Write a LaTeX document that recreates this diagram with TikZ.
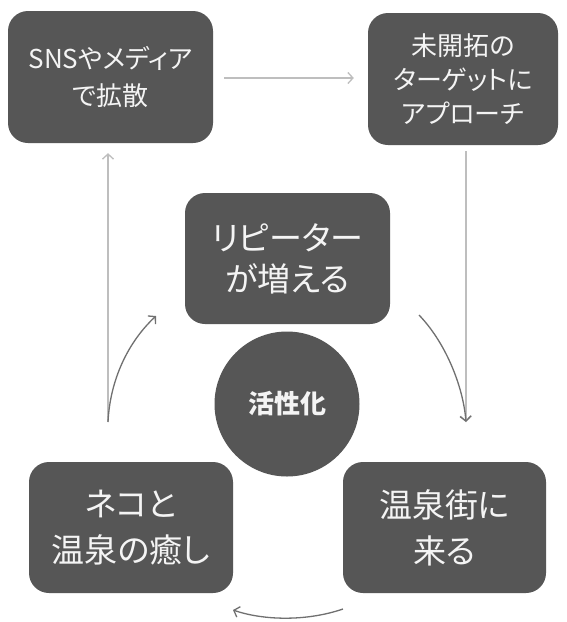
\documentclass[tikz,border=0pt]{standalone}
\usepackage{fontspec}
\setmainfont{Noto Sans CJK JP}[Script=CJK, RawFeature={+palt}]
\usetikzlibrary{arrows.meta}
\definecolor{boxgrey}{HTML}{565656}
\definecolor{txtwhite}{HTML}{F4F4F4}
\definecolor{lightarrow}{HTML}{BEBEBE}
\definecolor{darkarrow}{HTML}{707070}
\begin{document}
\begin{tikzpicture}[x=1pt,y=-1pt,
  card/.style={draw=none, fill=boxgrey, rounded corners=20pt, text=txtwhite, align=center, inner sep=0pt},
  hub/.style={circle, fill=boxgrey, text=txtwhite, inner sep=0pt, minimum size=145pt, font=\fontsize{26}{30}\selectfont\bfseries},
  straightarr/.style={draw=lightarrow, line width=1.3pt, -{Straight Barb[length=5pt,width=11pt]}},
  curvearr/.style={draw=darkarrow, line width=1.3pt, -{Straight Barb[length=5pt,width=11pt]}}
]
\useasboundingbox (0,0) rectangle (566,622);
\fill[white] (0,0) rectangle (566,622);

\node[card, minimum width=205pt, minimum height=132pt, font=\fontsize{26}{37}\selectfont] (tl) at (110.5,77) {SNSやメディア\\で拡散};
\node[card, minimum width=190pt, minimum height=132pt, font=\fontsize{26}{34}\selectfont] (tr) at (463,79) {未開拓の\\ターゲットに\\アプローチ};
\node[card, minimum width=205pt, minimum height=131pt, font=\fontsize{33}{41}\selectfont] (rep) at (287.5,258.5) {リピーター\\が増える};
\node[hub] (hubc) at (287,404) {活性化};
\node[card, minimum width=204pt, minimum height=131pt, font=\fontsize{33}{46}\selectfont] (bl) at (131,527.5) {ネコと\\温泉の癒し};
\node[card, minimum width=203pt, minimum height=131pt, font=\fontsize{33}{46}\selectfont] (br) at (444.5,527.5) {温泉街に\\来る};

% coordinates for free ends
\coordinate (lstart) at (108,422);
\coordinate (rend) at (466,422);
\coordinate (rcurve) at (419,315);
\coordinate (lcurveend) at (156,316);
\coordinate (bstart) at (343,609);
\coordinate (bend) at (233,610);

% straight arrows
\draw[straightarr, shorten <=11pt, shorten >=14pt] (tl.east |- 0,78) -- (tr.west |- 0,78);
\draw[straightarr, shorten <=6pt] (tr.south -| rend) -- (rend);
\draw[straightarr, shorten >=10pt] (lstart) -- (tl.south -| lstart);

% curved arrows
\draw[curvearr] (rcurve) .. controls (445,342) and (463,385) .. (rend);
\draw[curvearr] (lstart) .. controls (110,380) and (128,342) .. (lcurveend);
\draw[curvearr] (bstart) .. controls (305,622) and (262,620) .. (bend);
\end{tikzpicture}
\end{document}
